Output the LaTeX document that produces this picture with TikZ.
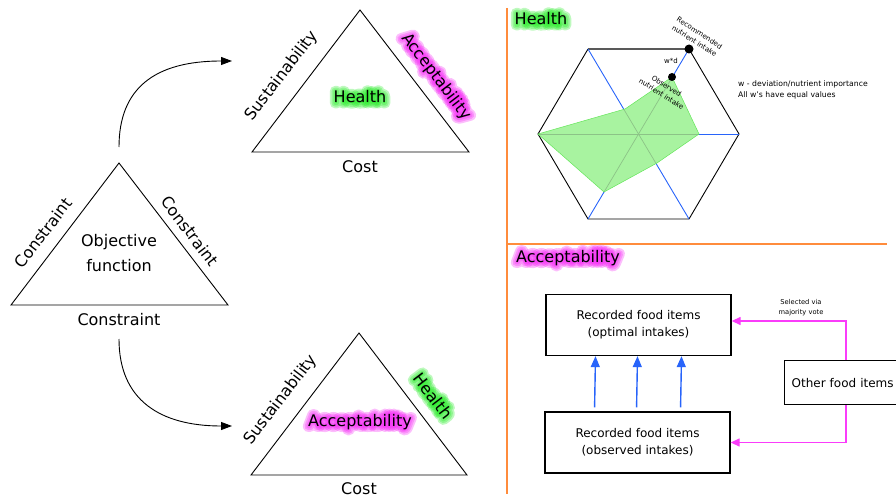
\documentclass[tikz,border=0pt]{standalone}
\usepackage{fontspec}
\setmainfont{DejaVu Sans}
\usetikzlibrary{arrows.meta,calc}
\definecolor{glowgreen}{RGB}{40,235,40}
\definecolor{glowmag}{RGB}{245,40,245}
\definecolor{hexblue}{RGB}{40,100,250}
\definecolor{orng}{RGB}{255,140,60}
\definecolor{mag}{RGB}{250,60,250}
\definecolor{fillgreen}{RGB}{168,243,160}
\definecolor{polyedge}{RGB}{100,230,90}
\definecolor{innerspoke}{RGB}{140,195,135}
\newcommand\glowlabel[5]{%
  \foreach \w/\k in {11/a,7.5/b,4/c}{%
    \begin{scope}[opacity=0.3]
    \node[lab, rotate=#3, text=#4] (#1-\k) at (#2) {\special{pdf:literal direct 1 j 1 J \w\space w 2 Tr}#5\special{pdf:literal direct 0 Tr}};
    \end{scope}}%
  \node[lab, rotate=#3] (#1) at (#2) {#5};}
\begin{document}
\begin{tikzpicture}[x=1pt,y=-1pt,
  lab/.style={inner sep=0pt, font=\fontsize{16}{19}\selectfont},
  tri/.style={draw=black, line width=0.9pt, line join=miter},
  curvearr/.style={line width=0.9pt, -{Triangle[length=11pt,width=8pt]}},
  boxnode/.style={draw=black, line width=1.3pt, minimum width=185pt, minimum height=61pt, align=center, font=\fontsize{12}{17}\selectfont, inner sep=0pt},
  bluearr/.style={draw=hexblue, line width=1.4pt, -{Triangle[length=11pt,width=9pt]}},
  magarr/.style={draw=mag, line width=1.3pt, -{Triangle[length=9pt,width=8pt]}},
  small/.style={inner sep=0pt, align=center, font=\fontsize{7}{9.5}\selectfont},
  orangeline/.style={draw=orng, line width=2.4pt}]
\useasboundingbox (0,0) rectangle (896,500);
\clip (0,0) rectangle (896,500);

% ---------- left: objective triangle ----------
\coordinate (la) at (119,163);
\coordinate (ll) at (11,305);
\coordinate (lr) at (228,305);
\draw[tri] (ll) -- (la) -- (lr) -- cycle;
\node[lab, rotate=52.7] (lcl) at (43,233) {Constraint};
\node[lab, rotate=-52.7] (lcr) at (190,231) {Constraint};
\node[lab, align=center, font=\fontsize{16}{25}\selectfont] (obj) at (119,253) {Objective\\function};
\node[lab] (lcb) at (119,320) {Constraint};

% ---------- top triangle ----------
\coordinate (ta) at (360,10);
\coordinate (tl) at (252,152);
\coordinate (tr) at (469,152);
\draw[tri] (tl) -- (ta) -- (tr) -- cycle;
\node[lab, rotate=52.7] (tsus) at (282,76) {Sustainability};
\glowlabel{tacc}{436,77}{-52.7}{glowmag}{Acceptability}
\glowlabel{thea}{360,97}{0}{glowgreen}{Health}
\node[lab] (tcost) at (360,167) {Cost};

% ---------- bottom triangle ----------
\coordinate (ba) at (359,333);
\coordinate (bl) at (251,475);
\coordinate (br) at (467,475);
\draw[tri] (bl) -- (ba) -- (br) -- cycle;
\node[lab, rotate=52.7] (bsus) at (281,400) {Sustainability};
\glowlabel{bhea}{433,396}{-52.7}{glowgreen}{Health}
\glowlabel{bacc}{360,422}{0}{glowmag}{Acceptability}
\node[lab] (bcost) at (359,489) {Cost};

% ---------- curved arrows ----------
\coordinate (up0) at (119,147);
\coordinate (up1) at (232,61);
\coordinate (dn0) at (119,339);
\coordinate (dn1) at (232,426);
\draw[curvearr] (up0) .. controls (119,88) and (155,61) .. (up1);
\draw[curvearr] (dn0) .. controls (119,400) and (160,426) .. (dn1);

% ---------- panel separators ----------
\coordinate (ot) at (507,8);
\coordinate (ob) at (507,494);
\coordinate (hl) at (507,244);
\coordinate (hr) at (887,244);
\draw[orangeline] (ot) -- (ob);
\draw[orangeline] (hl) -- (hr);

% ---------- Health panel ----------
\glowlabel{hhead}{541,19}{0}{glowgreen}{Health}
\coordinate (hc) at (638,134);
\coordinate (h1) at (739,134);
\coordinate (h2) at (689,49);
\coordinate (h3) at (588,49);
\coordinate (h4) at (538,134);
\coordinate (h5) at (588,219);
\coordinate (h6) at (689,219);
\draw[black, line width=0.9pt] (h3) -- (h4) -- (h5) -- (h6) -- (h1) -- (h2);
\draw[black!65, line width=1.5pt] (h2) -- (h3);
\draw[hexblue, line width=0.9pt] (h3) -- (h6);
\draw[hexblue, line width=0.9pt] (h2) -- (h5);
\draw[hexblue, line width=0.9pt] (h4) -- (h1);
\coordinate (p2) at (625,109);
\coordinate (p3) at (672,77);
\coordinate (p4) at (699,134);
\coordinate (p5) at (657,163);
\coordinate (p6) at (604,192);
\fill[fillgreen] (h4) -- (p2) -- (p3) -- (p4) -- (p5) -- (p6) -- cycle;
\begin{scope}
  \clip (h4) -- (p2) -- (p3) -- (p4) -- (p5) -- (p6) -- cycle;
  \draw[innerspoke, line width=0.7pt] (h3) -- (h6);
  \draw[innerspoke, line width=0.7pt] (h2) -- (h5);
  \draw[innerspoke, line width=0.7pt] (h4) -- (h1);
\end{scope}
\draw[polyedge, line width=0.5pt] (h4) -- (p2) -- (p3) -- (p4) -- (p5) -- (p6) -- cycle;
\fill[black] (h2) circle (4.5pt);
\fill[black] (p3) circle (4pt);
\node[small, rotate=-33] (rec) at (697,37) {Recommended\\nutrient intake};
\node[small] (wd) at (671,61) {w*d};
\node[small, rotate=-33] (obsl) at (664,90) {Observed\\nutrient intake};
\node[small, align=left, anchor=west, font=\fontsize{7.7}{11}\selectfont] (wnote) at (738,90) {w - deviation/nutrient importance\\All w's have equal values};

% ---------- Acceptability panel ----------
\glowlabel{ahead}{568,258}{0}{glowmag}{Acceptability}
\node[boxnode] (opt) at (638.5,325) {Recorded food items\\(optimal intakes)};
\node[boxnode] (obs) at (637.5,442.5) {Recorded food items\\(observed intakes)};
\node[draw=black, line width=1.3pt, anchor=north west, minimum height=44pt, minimum width=120pt, inner xsep=7pt, font=\fontsize{12}{17}\selectfont, text width=106pt] (other) at (784,360) {Other food items};
\foreach \dx in {-43,-1,43}{
  \draw[bluearr, shorten <=4pt] ($(obs.north)+(\dx,0)$) -- ($(opt.south)+(\dx,0)$);
}
\draw[magarr] ($(other.north west)+(62,0)$) |- ($(opt.east)+(0,-4)$);
\draw[magarr] ($(other.south west)+(62,0)$) |- (obs.east);
\node[small, font=\fontsize{6.7}{10}\selectfont] (sel) at (801,308) {Selected via\\majority vote};
\end{tikzpicture}
\end{document}
